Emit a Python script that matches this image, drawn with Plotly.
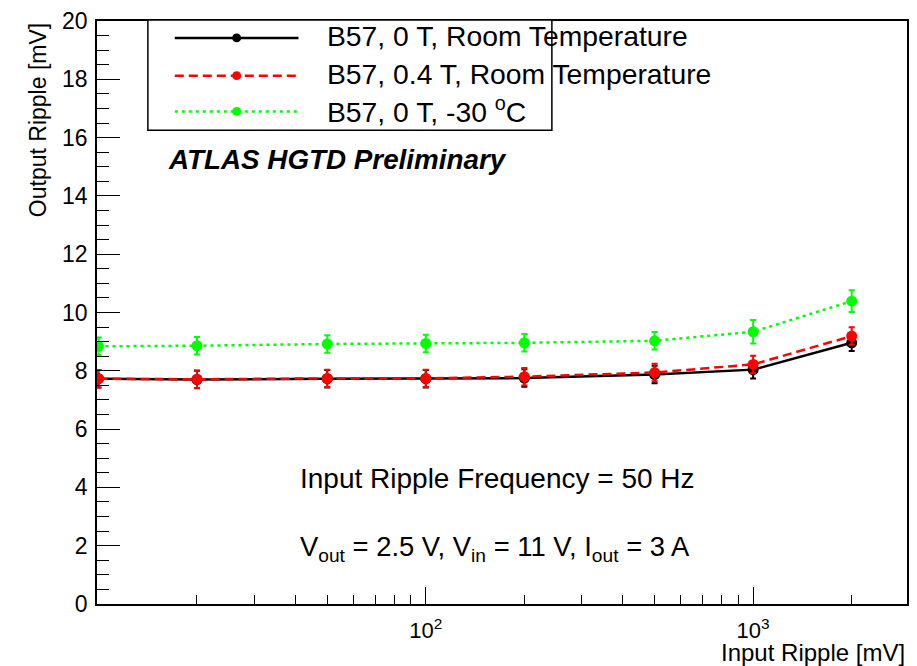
import plotly.graph_objects as go

# ---- data -----------------------------------------------------------------
input_ripple_mv = [10, 20, 50, 100, 200, 500, 1000, 2000]

out_0T_room = [7.73, 7.70, 7.73, 7.73, 7.75, 7.87, 8.04, 8.96]
err_0T_room = [0.30, 0.30, 0.30, 0.30, 0.30, 0.30, 0.30, 0.28]

out_04T_room = [7.73, 7.71, 7.74, 7.74, 7.80, 7.94, 8.22, 9.19]
err_04T_room = [0.30, 0.30, 0.30, 0.30, 0.30, 0.30, 0.30, 0.30]

out_0T_cold = [8.84, 8.86, 8.92, 8.94, 8.96, 9.03, 9.34, 10.39]
err_0T_cold = [0.30, 0.30, 0.30, 0.30, 0.30, 0.30, 0.40, 0.37]

series_names = [
    "B57, 0 T, Room Temperature",
    "B57, 0.4 T, Room Temperature",
    "B57, 0 T, -30 <sup>o</sup>C",
]
series_colors = ["#000000", "#ff0000", "#00ff00"]
series_dash = ["solid", "9px,5px", "3px,4px"]

x_major_ticks = [100, 1000]
x_major_labels = ["10<sup>2</sup>", "10<sup>3</sup>"]
x_minor_ticks = [20, 30, 40, 50, 60, 70, 80, 90,
                 200, 300, 400, 500, 600, 700, 800, 900, 2000]

# ---- geometry (pixels in a 917x666 page) --------------------------------
W, H = 917, 666
L, R, T, B = 97, 909, 17, 604
FONT = "Liberation Sans, Arial, sans-serif"


def fx(p):
    return (p - L) / (R - L)


def fy(p):
    return (B - p) / (B - T)


fig = go.Figure()

series = [
    (out_0T_room, err_0T_room),
    (out_04T_room, err_04T_room),
    (out_0T_cold, err_0T_cold),
]
for (vals, errs), name, col, dash in zip(series, series_names, series_colors, series_dash):
    fig.add_trace(go.Scatter(
        x=input_ripple_mv, y=vals, name=name, mode="lines+markers",
        line=dict(color=col, width=2.5, dash=dash),
        marker=dict(color=col, size=11, symbol="circle"),
        error_y=dict(type="data", array=errs, visible=True, color=col,
                     thickness=2, width=3),
        showlegend=False,
    ))

fig.update_xaxes(
    type="log", range=[0.9956, 3.47],
    showgrid=False, zeroline=False,
    showline=True, linecolor="black", linewidth=1.5, mirror=True,
    ticks="inside", ticklen=17, tickwidth=1.3, tickcolor="black",
    tickmode="array", tickvals=x_major_ticks, ticktext=x_major_labels,
    tickfont=dict(family=FONT, size=22, color="black"),
    ticklabelstandoff=6,
    minor=dict(ticks="inside", ticklen=9, tickwidth=1.3, tickcolor="black",
               tickmode="array", tickvals=x_minor_ticks, showgrid=False),
)
fig.update_yaxes(
    range=[0, 20], showgrid=False, zeroline=False,
    showline=True, linecolor="black", linewidth=1.5, mirror=True,
    ticks="inside", ticklen=23, tickwidth=1.3, tickcolor="black",
    dtick=2, tick0=0,
    tickfont=dict(family=FONT, size=23, color="black"),
    ticklabelstandoff=3,
    minor=dict(ticks="inside", ticklen=12, tickwidth=1.3, tickcolor="black",
               dtick=0.5, showgrid=False),
)

annotations = []
# axis titles (ROOT style: aligned to the end of the axis)
annotations.append(dict(
    text="Output Ripple [mV]", xref="paper", yref="paper",
    x=fx(38), y=fy(T), xanchor="center", yanchor="top", textangle=-90,
    showarrow=False, font=dict(family=FONT, size=23, color="black")))
annotations.append(dict(
    text="Input Ripple [mV]", xref="paper", yref="paper",
    x=1.0, y=fy(653), xanchor="right", yanchor="middle",
    showarrow=False, font=dict(family=FONT, size=24, color="black")))

# plot labels
annotations.append(dict(
    text="<b><i>ATLAS HGTD Preliminary</i></b>", xref="paper", yref="paper",
    x=fx(166), y=fy(156), xanchor="left", yanchor="middle",
    showarrow=False, font=dict(family=FONT, size=27.8, color="black")))
annotations.append(dict(
    text="Input Ripple Frequency = 50 Hz", xref="paper", yref="paper",
    x=fx(298), y=fy(478), xanchor="left", yanchor="middle",
    showarrow=False, font=dict(family=FONT, size=28, color="black")))
annotations.append(dict(
    text="V<sub>out</sub> = 2.5 V, V<sub>in</sub> = 11 V, I<sub>out</sub> = 3 A",
    xref="paper", yref="paper",
    x=fx(298), y=fy(548), xanchor="left", yanchor="middle",
    showarrow=False, font=dict(family=FONT, size=27.4, color="black")))

# legend box with long line samples
shapes = [dict(type="rect", xref="paper", yref="paper",
               x0=fx(148), x1=fx(553), y0=fy(127), y1=fy(16),
               fillcolor="white", line=dict(color="black", width=1.5),
               layer="above")]
row_y = [34, 72, 108]
for name, col, dash, ry in zip(series_names, series_colors, series_dash, row_y):
    shapes.append(dict(type="line", xref="paper", yref="paper",
                       x0=fx(175), x1=fx(299), y0=fy(ry), y1=fy(ry),
                       line=dict(color=col, width=2.5, dash=dash), layer="above"))
    rad = 4.5
    shapes.append(dict(type="circle", xref="paper", yref="paper",
                       x0=fx(237 - rad), x1=fx(237 + rad),
                       y0=fy(ry + rad), y1=fy(ry - rad),
                       fillcolor=col, line=dict(color=col, width=0), layer="above"))
    annotations.append(dict(
        text=name, xref="paper", yref="paper",
        x=fx(326), y=fy(ry - 1.5), xanchor="left", yanchor="middle",
        showarrow=False, font=dict(family=FONT, size=28.3, color="black")))

fig.update_layout(
    width=W, height=H,
    margin=dict(l=L, r=W - R, t=T, b=H - B),
    paper_bgcolor="white", plot_bgcolor="white",
    showlegend=False,
    shapes=shapes, annotations=annotations,
)

fig.write_html("out.html")
